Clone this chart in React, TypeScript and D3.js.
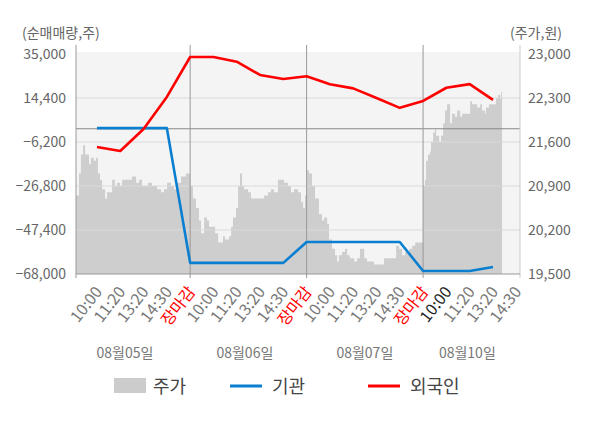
import React from 'react';
import * as d3 from 'd3';

// x runs in "slots": each trading day has 5 slots (10:00, 11:20, 13:20, 14:30, 장마감)
const slotLabels = ['10:00', '11:20', '13:20', '14:30', '장마감'];
const dayNames = ['08월05일', '08월06일', '08월07일', '08월10일'];
const dayLabelPos = [2.2, 7.35, 12.5, 16.9];
const dayBreaks = [5, 10, 15];

const leftTicks = [35000, 14400, -6200, -26800, -47400, -68000];
const rightTicks = [23000, 22300, 21600, 20900, 20200, 19500];

const flowSlots = [1, 2, 3, 4, 5, 6, 7, 8, 9, 10, 11, 12, 13, 14, 15, 16, 17, 18];
const foreign = [-8500, -10400, -100, 14900, 33600, 33600, 31400, 25200, 23300, 24600, 20800, 18900, 14400, 9800, 13000, 19200, 20900, 13500];
const institution = [300, 300, 300, 300, -62800, -62800, -62800, -62800, -62800, -53000, -53000, -53000, -53000, -53000, -66600, -66600, -66600, -64700];

// stock price (won), [slot position, price]
const price: [number, number][] = [
  [0.1, 20750], [0.23, 21100], [0.31, 21400], [0.4, 21550], [0.49, 21400], [0.57, 21400], [0.66, 21250],
  [0.74, 21350], [0.87, 21300], [0.96, 21350], [1.04, 21100], [1.13, 21000], [1.22, 20850], [1.35, 20700],
  [1.43, 20800], [1.56, 20800], [1.65, 21000], [1.77, 20900], [1.86, 20950], [1.99, 20900], [2.08, 21000],
  [2.25, 21000], [2.38, 21000], [2.5, 21050], [2.68, 20950], [2.81, 21000], [2.93, 20900], [3.19, 20950],
  [3.36, 20900], [3.58, 20850], [3.75, 20800], [3.88, 20850], [4.01, 20950], [4.18, 20900], [4.31, 20850],
  [4.44, 20950], [4.61, 21050], [4.82, 21100],
  [5.0, 20900], [5.12, 20700], [5.25, 20550], [5.38, 20350], [5.47, 20150], [5.6, 20400], [5.72, 20350],
  [5.81, 20250], [5.98, 20250], [6.07, 20150], [6.2, 20000], [6.28, 20000], [6.41, 20100], [6.5, 20050],
  [6.67, 20100], [6.76, 20250], [6.84, 20400], [6.97, 20550], [7.06, 20900], [7.14, 21100], [7.23, 20900],
  [7.31, 20850], [7.49, 20800], [7.61, 20700], [7.74, 20700], [7.91, 20700], [8.04, 20700], [8.17, 20750],
  [8.34, 20800], [8.47, 20850], [8.6, 20800], [8.77, 21000], [8.9, 21000], [9.03, 20950], [9.2, 20900],
  [9.33, 20800], [9.46, 20850], [9.63, 20800], [9.76, 20650], [9.85, 20550], [9.93, 20750],
  [10.02, 21150], [10.1, 21100], [10.23, 20900], [10.36, 20700], [10.45, 20700], [10.53, 20450], [10.66, 20350],
  [10.75, 20400], [10.88, 20300], [10.96, 20050], [11.09, 19900], [11.22, 19800], [11.31, 19700], [11.39, 19800],
  [11.52, 19850], [11.65, 19900], [11.74, 19800], [11.86, 19750], [12.04, 19700], [12.17, 19750], [12.29, 19900],
  [12.47, 19750], [12.59, 19700], [12.72, 19700], [12.9, 19650], [13.02, 19650], [13.15, 19650], [13.32, 19750],
  [13.45, 19750], [13.58, 19750], [13.75, 19750], [13.84, 19950], [13.97, 19900], [14.1, 19800], [14.23, 19850],
  [14.4, 19900], [14.53, 19950], [14.66, 20000], [14.87, 20000],
  [15.0, 20900], [15.08, 21000], [15.13, 21300], [15.21, 21400], [15.3, 21450], [15.34, 21600], [15.43, 21750],
  [15.51, 21800], [15.56, 21700], [15.69, 21600], [15.77, 21700], [15.86, 21900], [15.94, 22100], [16.03, 22200],
  [16.16, 21900], [16.24, 22050], [16.37, 22000], [16.46, 22100], [16.59, 22000], [16.67, 22050], [16.8, 22050],
  [16.93, 22050], [17.02, 22250], [17.1, 22200], [17.23, 22200], [17.32, 22150], [17.45, 22200], [17.53, 22100],
  [17.66, 22050], [17.7, 22150], [17.83, 22200], [17.92, 22200], [18.05, 22200], [18.13, 22300], [18.22, 22350],
  [18.31, 22300], [18.35, 22400], [18.39, 22400],
];

const W = 600;
const H = 428;
const plot = { left: 76, right: 520, top: 54, bottom: 274 };
const font = '"Noto Sans CJK KR", "Noto Sans", sans-serif';

const x = d3.scaleLinear().domain([0.1, 19.16]).range([plot.left, plot.right]);
const yL = d3.scaleLinear().domain([-68000, 35000]).range([plot.bottom, plot.top]);
const yR = d3.scaleLinear().domain([19500, 23000]).range([plot.bottom, plot.top]);

const fmt = d3.format(',');

export default function App() {
  const area = d3.area<[number, number]>()
    .x(d => x(d[0]))
    .y0(plot.bottom)
    .y1(d => yR(d[1]))
    .curve(d3.curveStepAfter);

  const flowLine = d3.line<number>()
    .x((_, i) => x(flowSlots[i]));

  const foreignPath = flowLine.y(d => yL(d))(foreign);
  const instPath = flowLine.y(d => yL(d))(institution);

  const xTicks: { pos: number; label: string; color: string }[] = [];
  dayNames.forEach((_, d) => {
    slotLabels.forEach((lab, s) => {
      const pos = d * 5 + s + 1;
      if (pos > 19.16) return;
      let color = '#777';
      if (lab === '장마감') color = '#ff0000';
      if (d === 3 && s === 0) color = '#222';
      xTicks.push({ pos, label: lab, color });
    });
  });

  const legend = [
    { kind: 'rect', label: '주가', x: 114, color: '#cccccc' },
    { kind: 'line', label: '기관', x: 230, color: '#0a7fd0' },
    { kind: 'line', label: '외국인', x: 368, color: '#ff0000' },
  ];

  return (
    <div style={{ position: 'absolute', left: 0, top: 0 }}>
      <svg width={W} height={H} style={{ display: 'block', fontFamily: font }}>
        <rect x={0} y={0} width={W} height={H} fill="#fff" />
        <rect x={plot.left} y={plot.top - 2} width={plot.right - plot.left} height={plot.bottom - plot.top + 2} fill="#f4f4f4" />

        <path d={area(price) || ''} fill="#cecece" />

        {leftTicks.slice(1, -1).map(t => (
          <line key={t} x1={plot.left} x2={plot.right} y1={yL(t)} y2={yL(t)} stroke="#dadada" strokeWidth={1} />
        ))}

        <line x1={plot.left} x2={plot.right} y1={yL(0)} y2={yL(0)} stroke="#888" strokeWidth={1.2} />

        <line x1={plot.left} x2={plot.left} y1={45} y2={278} stroke="#999" />
        {dayBreaks.map(b => (
          <line key={b} x1={x(b)} x2={x(b)} y1={45} y2={278} stroke="#999" />
        ))}
        <line x1={plot.right} x2={plot.right} y1={45} y2={278} stroke="#ccc" />
        <line x1={plot.left} x2={plot.right} y1={plot.bottom} y2={plot.bottom} stroke="#999" />

        <path d={instPath || ''} fill="none" stroke="#0a7fd0" strokeWidth={2.6} strokeLinejoin="round" />
        <path d={foreignPath || ''} fill="none" stroke="#ff0000" strokeWidth={2.6} strokeLinejoin="round" />

        <text x={22} y={38} fontSize={14} fill="#666">(순매매량,주)</text>
        <text x={562} y={38} fontSize={14} fill="#666" textAnchor="end">(주가,원)</text>

        {leftTicks.map(t => (
          <text key={t} x={66} y={yL(t) + 5} fontSize={14} fill="#666" textAnchor="end">{fmt(t)}</text>
        ))}
        {rightTicks.map(t => (
          <text key={t} x={528} y={yR(t) + 5} fontSize={14} fill="#666">{fmt(t)}</text>
        ))}

        {xTicks.map(t => (
          <text key={t.pos} transform={`translate(${x(t.pos) + 6},${292}) rotate(-52)`} fontSize={16} fill={t.color} textAnchor="end">{t.label}</text>
        ))}

        {dayNames.map((d, i) => (
          <text key={d} x={x(dayLabelPos[i])} y={358} fontSize={14} fill="#777" textAnchor="middle">{d}</text>
        ))}

        {legend.map(l => (
          <g key={l.label}>
            {l.kind === 'rect'
              ? <rect x={l.x} y={378} width={32} height={15} fill={l.color} />
              : <line x1={l.x} x2={l.x + 32} y1={386} y2={386} stroke={l.color} strokeWidth={3} />}
            <text x={l.x + (l.kind === 'rect' ? 39 : 42)} y={393} fontSize={18} fill="#444">{l.label}</text>
          </g>
        ))}
      </svg>
    </div>
  );
}
